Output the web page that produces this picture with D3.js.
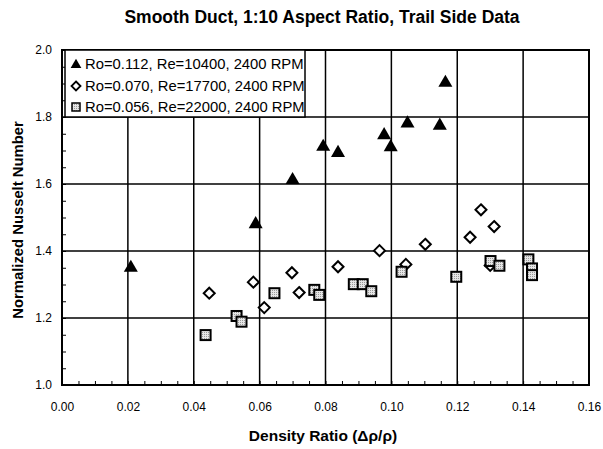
<!DOCTYPE html>
<html><head><meta charset="utf-8">
<script src="https://cdn.jsdelivr.net/npm/d3@7"></script>
<style>body{margin:0;background:#fff}</style>
</head><body>
<svg id="c" width="603" height="449"></svg>
<script>
const titleText = "Smooth Duct, 1:10 Aspect Ratio, Trail Side Data";
const xLabel = "Density Ratio (\u0394\u03C1/\u03C1)";
const yLabel = "Normalized Nusselt Number";
const xTicks = [0,0.02,0.04,0.06,0.08,0.10,0.12,0.14,0.16];
const yTicks = [1.0,1.2,1.4,1.6,1.8,2.0];
const seriesNames = ["Ro=0.112, Re=10400, 2400 RPM","Ro=0.070, Re=17700, 2400 RPM","Ro=0.056, Re=22000, 2400 RPM"];
const triX = [0.0209,0.0588,0.0700,0.0793,0.0838,0.0978,0.0998,0.1049,0.1147,0.1164];
const triY = [1.353,1.483,1.615,1.714,1.696,1.749,1.713,1.784,1.777,1.905];
const diaX = [0.0447,0.0581,0.0614,0.0698,0.0720,0.0838,0.0964,0.1044,0.1103,0.1239,0.1272,0.1312,0.1300];
const diaY = [1.274,1.307,1.231,1.335,1.276,1.353,1.401,1.360,1.420,1.441,1.523,1.473,1.357];
const sqX = [0.0436,0.0530,0.0545,0.0645,0.0766,0.0781,0.0886,0.0913,0.0939,0.1031,0.1197,0.1301,0.1328,0.1416,0.1427,0.1427];
const sqY = [1.149,1.206,1.189,1.274,1.284,1.269,1.301,1.301,1.280,1.338,1.323,1.370,1.356,1.375,1.348,1.328];

const svg = d3.select("#c");
const L=62,R=589,T=50,B=385;
const x = d3.scaleLinear().domain([0,0.16]).range([L,R]);
const y = d3.scaleLinear().domain([1.0,2.0]).range([B,T]);
const font = "'Liberation Sans', Arial, sans-serif";

// grid
svg.append("g").selectAll("line").data(xTicks.slice(1,-1)).join("line")
  .attr("x1",d=>x(d)).attr("x2",d=>x(d)).attr("y1",T).attr("y2",B)
  .attr("stroke","#000").attr("stroke-width",1.5);
svg.append("g").selectAll("line").data(yTicks.slice(1,-1)).join("line")
  .attr("y1",d=>y(d)).attr("y2",d=>y(d)).attr("x1",L).attr("x2",R)
  .attr("stroke","#000").attr("stroke-width",1.5);

// axes
const xAxis = d3.axisBottom(x).tickValues(d3.range(0,0.1601,0.005)).tickSize(-4).tickFormat("");
const gx = svg.append("g").attr("transform",`translate(0,${B})`).call(xAxis);
gx.select(".domain").remove();
gx.selectAll("line").attr("stroke","#000").attr("stroke-width",1);
const xAxisL = d3.axisBottom(x).tickValues(xTicks).tickSize(0).tickPadding(17).tickFormat(d3.format(".2f"));
const gxl = svg.append("g").attr("transform",`translate(0,${B})`).call(xAxisL);
gxl.select(".domain").remove();
gxl.selectAll("text").attr("font-family",font).attr("font-size",12).attr("fill","#000");

const yAxis = d3.axisLeft(y).tickValues(d3.range(1.0,2.001,0.05)).tickSize(-4).tickFormat("");
const gy = svg.append("g").attr("transform",`translate(${L},0)`).call(yAxis);
gy.select(".domain").remove();
gy.selectAll("line").attr("stroke","#000").attr("stroke-width",1);
const yAxisL = d3.axisLeft(y).tickValues(yTicks).tickSize(0).tickPadding(10).tickFormat(d3.format(".1f"));
const gyl = svg.append("g").attr("transform",`translate(${L},0)`).call(yAxisL);
gyl.select(".domain").remove();
gyl.selectAll("text").attr("font-family",font).attr("font-size",12).attr("fill","#000");

svg.append("rect").attr("x",L).attr("y",T).attr("width",R-L).attr("height",B-T)
  .attr("fill","none").attr("stroke","#000").attr("stroke-width",2);

// pattern for squares
const defs = svg.append("defs");
const pat = defs.append("pattern").attr("id","dots").attr("width",2).attr("height",2).attr("patternUnits","userSpaceOnUse");
pat.append("rect").attr("width",2).attr("height",2).attr("fill","#e6e6e6");
pat.append("rect").attr("width",1).attr("height",1).attr("fill","#9a9a9a");

const tri = d3.symbol().type(d3.symbolTriangle).size(85);
const dia = (s)=>`M0,${-s}L${s},0L0,${s}L${-s},0Z`;

svg.append("g").selectAll("path").data(triX.map((d,i)=>[d,triY[i]])).join("path")
  .attr("d",tri).attr("transform",d=>`translate(${x(d[0])},${y(d[1])+1})`).attr("fill","#000");
svg.append("g").selectAll("path").data(diaX.map((d,i)=>[d,diaY[i]])).join("path")
  .attr("d",dia(5.5)).attr("transform",d=>`translate(${x(d[0])},${y(d[1])})`)
  .attr("fill","#fff").attr("stroke","#000").attr("stroke-width",2);
svg.append("g").selectAll("rect").data(sqX.map((d,i)=>[d,sqY[i]])).join("rect")
  .attr("x",d=>x(d[0])-5).attr("y",d=>y(d[1])-5).attr("width",10).attr("height",10)
  .attr("fill","url(#dots)").attr("stroke","#000").attr("stroke-width",2);

// legend
const lg = svg.append("g");
lg.append("rect").attr("x",65).attr("y",T).attr("width",240).attr("height",67)
  .attr("fill","#fff").attr("stroke","#000").attr("stroke-width",1.5);
const rows=[64,86,107];
lg.append("path").attr("d",d3.symbol().type(d3.symbolTriangle).size(50)).attr("transform",`translate(76,${rows[0]+1})`).attr("fill","#000");
lg.append("path").attr("d",dia(4.5)).attr("transform",`translate(76,${rows[1]})`).attr("fill","#fff").attr("stroke","#000").attr("stroke-width",1.8);
lg.append("rect").attr("x",72).attr("y",rows[2]-4).attr("width",8).attr("height",8).attr("fill","url(#dots)").attr("stroke","#000").attr("stroke-width",1.5);
lg.selectAll("text").data(seriesNames).join("text")
  .attr("x",85).attr("y",(d,i)=>rows[i]).attr("dy","0.35em")
  .attr("font-family",font).attr("font-size",14.8).attr("fill","#000").text(d=>d);

// titles
svg.append("text").attr("x",322).attr("y",23).attr("text-anchor","middle")
  .attr("font-family",font).attr("font-weight","bold").attr("font-size",17.5).text(titleText);
svg.append("text").attr("x",323).attr("y",441).attr("text-anchor","middle")
  .attr("font-family",font).attr("font-weight","bold").attr("font-size",15.5).text(xLabel);
svg.append("text").attr("transform","translate(23,220) rotate(-90)").attr("text-anchor","middle")
  .attr("font-family",font).attr("font-weight","bold").attr("font-size",14.8).text(yLabel);
</script>
</body></html>
